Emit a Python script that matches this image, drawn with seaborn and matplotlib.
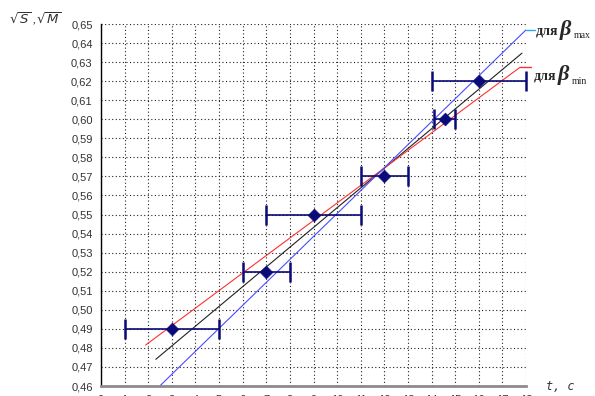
import numpy as np
import pandas as pd
import matplotlib
matplotlib.use("Agg")
import matplotlib.pyplot as plt
import seaborn as sns

# measured points: time and root values with time intervals
t_mid = [3, 7, 9, 12, 14.55, 16]
t_low = [1, 6, 7, 11, 14.1, 14]
t_high = [5, 8, 11, 13, 15, 18]
root_val = [0.49, 0.52, 0.55, 0.57, 0.60, 0.62]

# straight lines: mean fit, beta_min and beta_max
fit_t = [2.32, 17.83]
fit_y = [0.474, 0.6347]
bmin_t = [1.89, 17.75]
bmin_y = [0.4815, 0.6273]
bmax_t = [2.53, 18.0]
bmax_y = [0.4605, 0.6469]

y_ticks = [0.46, 0.47, 0.48, 0.49, 0.50, 0.51, 0.52, 0.53, 0.54, 0.55,
           0.56, 0.57, 0.58, 0.59, 0.60, 0.61, 0.62, 0.63, 0.64, 0.65]
x_ticks = list(range(0, 19))

sns.set_style("white")
plt.rcParams['font.family'] = ['Liberation Sans', 'DejaVu Sans']

W, H = 595, 396
fig = plt.figure(figsize=(W / 100, H / 100), dpi=100)
ax = fig.add_axes([101 / W, 10 / H, 425 / W, 362 / H])

lines = pd.DataFrame({
    "t": fit_t + bmin_t + bmax_t,
    "y": fit_y + bmin_y + bmax_y,
    "kind": ["fit"] * 2 + ["min"] * 2 + ["max"] * 2,
})
sns.lineplot(data=lines, x="t", y="y", hue="kind", estimator=None, sort=False,
             palette={"fit": "#222222", "min": "#ff3030", "max": "#4b4bff"},
             linewidth=0.8, legend=False, ax=ax, zorder=3)

ax.errorbar(t_mid, root_val,
            xerr=[np.subtract(t_mid, t_low), np.subtract(t_high, t_mid)],
            fmt="none", ecolor="#0a0a78", elinewidth=1.2, capsize=7,
            capthick=1.8, zorder=4, clip_on=False)
pts = pd.DataFrame({"t": t_mid, "y": root_val})
sns.scatterplot(data=pts, x="t", y="y", marker="D", s=42, color="#0a0a78",
                edgecolor="#0a0a78", linewidth=0.5, ax=ax, zorder=5)

# leader segments to the line captions
ax.plot([bmax_t[-1], bmax_t[-1] + 0.4], [bmax_y[-1], bmax_y[-1]],
        color="#2aa8f0", lw=1.0, clip_on=False)
ax.plot([bmin_t[-1], bmin_t[-1] + 0.45], [bmin_y[-1], bmin_y[-1]],
        color="#ff3030", lw=1.0, clip_on=False)

ax.set_xlim(0, 18)
ax.set_ylim(0.46, 0.65)
ax.set_xticks(x_ticks)
ax.set_xticklabels([str(v) for v in x_ticks])
ax.set_yticks(y_ticks)
ax.set_yticklabels([f"{v:.2f}".replace(".", ",") for v in y_ticks])
ax.tick_params(axis="both", length=0, labelsize=8, colors="#333333")
ax.tick_params(axis="x", pad=6.5)
ax.tick_params(axis="y", pad=6)
ax.set_xlabel("")
ax.set_ylabel("")

ax.grid(True, color="#222222", linestyle=(0, (1, 2.2)), linewidth=0.8)
ax.set_axisbelow(True)
for s in ("top", "right"):
    ax.spines[s].set_visible(False)
ax.spines["left"].set_color("black")
ax.spines["left"].set_linewidth(1.0)
ax.spines["bottom"].set_color("#8c8c8c")
ax.spines["bottom"].set_linewidth(2.0)

# axis captions
fig.text(9 / W, 1 - 19 / H, r"$\sqrt{S}$ ,$\sqrt{M}$", fontsize=9.5,
         color="#333333", va="center", ha="left", style="italic")
fig.text(546 / W, 1 - 386 / H, "t, c", fontsize=8.5, color="#333333",
         va="center", ha="left", family="DejaVu Sans Mono", style="italic")

# line captions
for y_px, sub in ((31, "max"), (76, "min")):
    x0 = 536 if sub == "max" else 534
    fig.text(x0 / W, 1 - y_px / H, "для", fontsize=10, family="Liberation Serif",
             fontweight="bold", va="center", ha="left")
    fig.text((x0 + 24) / W, 1 - (y_px - 1) / H, "β", fontsize=16,
             family="Liberation Serif", fontweight="bold", style="italic",
             va="center", ha="left")
    fig.text((x0 + 38) / W, 1 - (y_px + 5) / H, sub, fontsize=7,
             family="Liberation Serif", va="center", ha="left")

fig.savefig("out.png", dpi=100)
